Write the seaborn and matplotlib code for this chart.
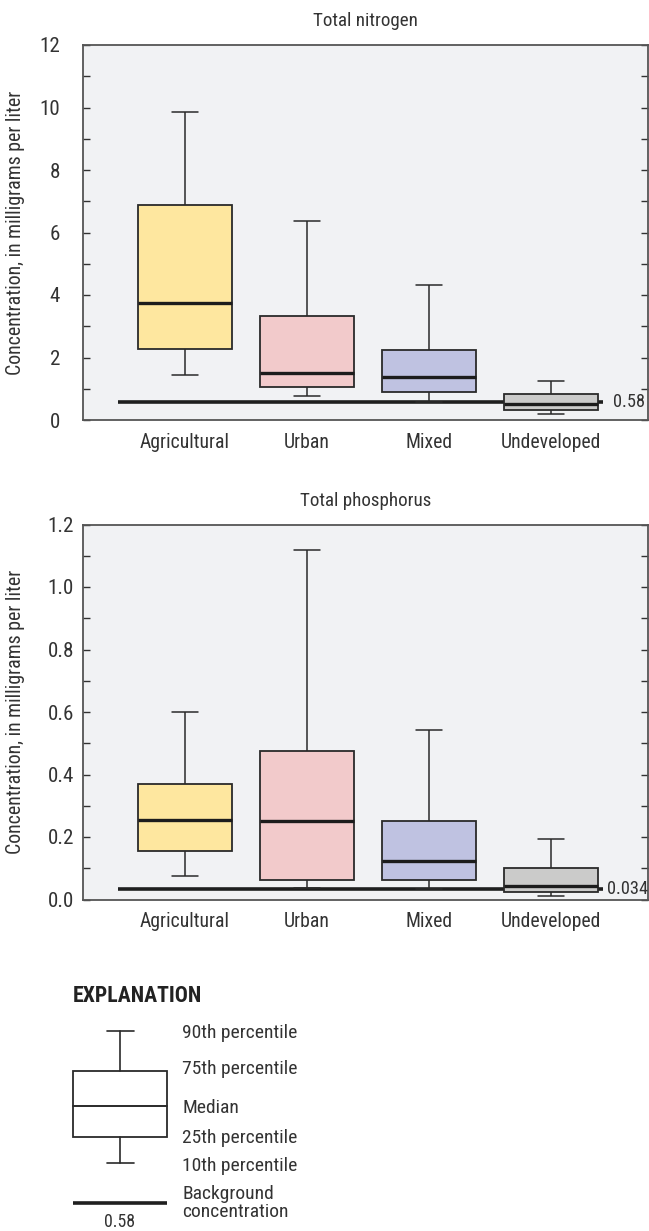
import numpy as np
import pandas as pd
import matplotlib
matplotlib.use("Agg")
import matplotlib.pyplot as plt
from matplotlib.patches import Rectangle
from matplotlib.ticker import MultipleLocator, FormatStrFormatter
from matplotlib import font_manager
import seaborn as sns

# Land-use categories
categories = ["Agricultural", "Urban", "Mixed", "Undeveloped"]
box_colors = ["#fee79f", "#f2cacb", "#bfc2e1", "#cbcbca"]

# Total nitrogen, mg/L: 10th, 25th, 50th, 75th, 90th percentiles
tn_p10 = [1.44, 0.76, 0.57, 0.19]
tn_p25 = [2.26, 1.07, 0.89, 0.32]
tn_p50 = [3.74, 1.50, 1.38, 0.51]
tn_p75 = [6.88, 3.33, 2.25, 0.82]
tn_p90 = [9.87, 6.38, 4.32, 1.26]
tn_background = 0.58

# Total phosphorus, mg/L: 10th, 25th, 50th, 75th, 90th percentiles
tp_p10 = [0.075, 0.038, 0.033, 0.011]
tp_p25 = [0.156, 0.062, 0.062, 0.025]
tp_p50 = [0.255, 0.250, 0.123, 0.043]
tp_p75 = [0.369, 0.474, 0.250, 0.100]
tp_p90 = [0.599, 1.117, 0.542, 0.194]
tp_background = 0.034

W = 649
H = 1231

# prefer a condensed face when one is installed
installed = {f.name for f in font_manager.fontManager.ttflist}
condensed = [n for n in ("Roboto Condensed", "Liberation Sans Narrow",
                         "Open Sans Condensed", "DejaVu Sans Condensed")
             if n in installed]
FONT = condensed[:1] + ["Liberation Sans", "DejaVu Sans"]
NARROW = bool(condensed)
SCALE = 1.12 if NARROW else 1.0

sns.set_theme(style="ticks")
plt.rcParams["font.family"] = FONT
plt.rcParams["text.color"] = "#333333"
plt.rcParams["axes.labelcolor"] = "#333333"
plt.rcParams["xtick.color"] = "#333333"
plt.rcParams["ytick.color"] = "#333333"


def fs(size):
    return size * SCALE


def percentile_table(p10, p25, p50, p75, p90):
    rows = []
    for i, cat in enumerate(categories):
        for v in (p10[i], p25[i], p50[i], p75[i], p90[i]):
            rows.append({"land": cat, "value": v})
    return pd.DataFrame(rows)


BOX_W = 0.77
CAP_W = 0.22


def draw_panel(ax, df, background, bg_label, label_x, title, ymax, major,
               minor, fmt, ypad):
    ax.set_facecolor("#f1f2f4")
    sns.boxplot(
        data=df, x="land", y="value", hue="land", order=categories,
        hue_order=categories, palette=box_colors, saturation=1,
        legend=False, width=BOX_W, whis=(0, 100), showfliers=False,
        linecolor="#2a2a2a", linewidth=1.3,
        medianprops=dict(linewidth=2.4, color="#1c1c1c"),
        whiskerprops=dict(linewidth=1.1), capprops=dict(linewidth=1.1),
        ax=ax,
    )
    # narrower whisker caps
    for line in ax.lines:
        x = np.asarray(line.get_xdata(), dtype=float)
        y = np.asarray(line.get_ydata(), dtype=float)
        if len(x) == 2 and y[0] == y[1] and abs((x[1] - x[0]) - 0.5 * BOX_W) < 1e-6:
            c = x.mean()
            line.set_xdata([c - CAP_W / 2, c + CAP_W / 2])

    # background concentration line, drawn behind the boxes
    ax.plot([-0.55, 3.43], [background, background], color="#1f1f1f",
            linewidth=2.6, solid_capstyle="butt", zorder=1.9)
    ax.text(label_x, background, bg_label, ha="left", va="center",
            fontsize=fs(11.8), color="#333333")

    ax.set_xlim(-0.836, 3.795)
    ax.set_ylim(0, ymax)
    ax.yaxis.set_major_locator(MultipleLocator(major))
    ax.yaxis.set_minor_locator(MultipleLocator(minor))
    ax.yaxis.set_major_formatter(FormatStrFormatter(fmt))
    ax.tick_params(axis="y", which="both", direction="in", length=5,
                   width=1, left=True, right=True, labelsize=fs(13.5), pad=ypad)
    ax.tick_params(axis="x", length=0, labelsize=fs(12.7), pad=9)
    for s in ax.spines.values():
        s.set_visible(True)
        s.set_color("#555555")
        s.set_linewidth(1.3)
    ax.set_xlabel("")
    ax.set_ylabel("Concentration, in milligrams per liter", fontsize=fs(12.8))
    ax.yaxis.set_label_coords(-0.103, 0.5)
    ax.text(0.5, 1 + 24 / 375, title, transform=ax.transAxes,
            ha="center", va="center", fontsize=fs(12.2))


fig = plt.figure(figsize=(W / 100, H / 100), dpi=100)
fig.patch.set_facecolor("white")

ax1 = fig.add_axes([83 / W, 1 - 420 / H, 565 / W, 375 / H])
draw_panel(ax1, percentile_table(tn_p10, tn_p25, tn_p50, tn_p75, tn_p90),
           tn_background, "0.58", 3.51, "Total nitrogen", 12, 2, 1, "%d", 16.5)

ax2 = fig.add_axes([83 / W, 1 - 899.5 / H, 565 / W, 375 / H])
draw_panel(ax2, percentile_table(tp_p10, tp_p25, tp_p50, tp_p75, tp_p90),
           tp_background, "0.034", 3.46, "Total phosphorus", 1.2, 0.2, 0.1,
           "%.1f", 6.5)

# Explanation key, laid out in pixel coordinates
key = fig.add_axes([0, 0, 1, 1], zorder=-1)
key.set_xlim(0, W)
key.set_ylim(H, 0)
key.axis("off")
ink = "#2a2a2a"
key.text(73, 996, "EXPLANATION", fontsize=fs(14), fontweight="bold",
         ha="left", va="center", color="#222222")
key.add_patch(Rectangle((73, 1071), 94, 66, facecolor="white",
                        edgecolor=ink, linewidth=1.3))
key.plot([73, 167], [1106, 1106], color=ink, linewidth=1.4)
key.plot([120, 120], [1031, 1071], color=ink, linewidth=1.2)
key.plot([120, 120], [1137, 1163], color=ink, linewidth=1.2)
key.plot([107, 134], [1031, 1031], color=ink, linewidth=1.2)
key.plot([107, 134], [1163, 1163], color=ink, linewidth=1.2)
key.plot([73, 167], [1203, 1203], color="#1f1f1f", linewidth=2.6,
         solid_capstyle="butt")
key.text(120, 1222, "0.58", fontsize=fs(11.5), ha="center", va="center")

key_labels = [
    (1033, "90th percentile"),
    (1069, "75th percentile"),
    (1108, "Median"),
    (1138, "25th percentile"),
    (1166, "10th percentile"),
    (1203, "Background\nconcentration"),
]
for y, lab in key_labels:
    key.text(182, y, lab, fontsize=fs(12.5), ha="left", va="center",
             linespacing=0.95)

fig.savefig("out.png", dpi=100)
